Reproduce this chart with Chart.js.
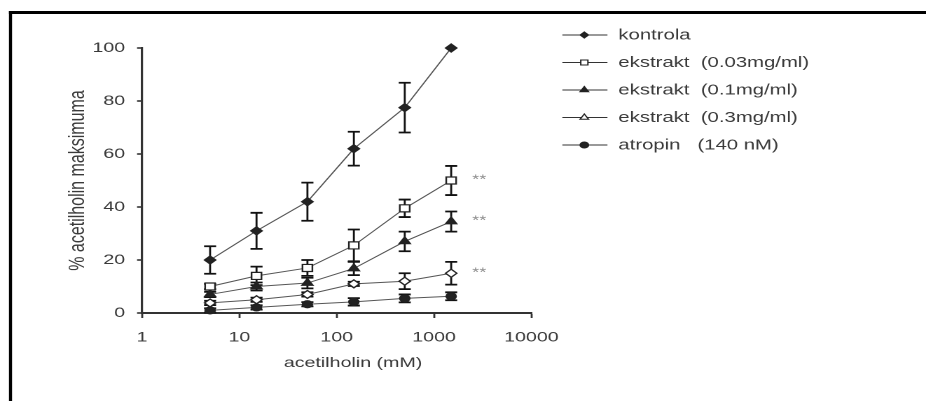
<!DOCTYPE html>
<html>
<head>
<meta charset="utf-8">
<script src="https://cdn.jsdelivr.net/npm/chart.js@4.4.1/dist/chart.umd.min.js"></script>
<style>
  html, body { margin: 0; padding: 0; background: #fff; }
</style>
</head>
<body>
<!-- drawn narrow, shown wide: the figure is stretched sideways -->
<canvas id="chart" width="661" height="401" style="width:926px;height:401px;display:block"></canvas>
<script>
// -----------------------------
// Data
// -----------------------------
const doses = [5, 15, 50, 150, 500, 1500];          // acetilholin (mM)
const xTicks = [1, 10, 100, 1000, 10000];
const yTicks = [0, 20, 40, 60, 80, 100];

const kontrola      = [20, 31, 42, 62, 77.5, 100];
const kontrolaErr   = [5.2, 6.8, 7.2, 6.4, 9.4, 0];
const ekstrakt003   = [10, 14, 17, 25.5, 39.5, 50];
const ekstrakt003Err = [1, 3.5, 3, 6, 3.3, 5.5];
const ekstrakt01    = [7, 10, 11.3, 16.8, 27, 34.5];
const ekstrakt01Err = [1, 1.5, 2, 2.5, 3.7, 3.8];
const ekstrakt03    = [3.8, 5, 7, 11, 12, 15];
const ekstrakt03Err = [0.8, 0.8, 0.8, 0.8, 3, 4.3];
const atropin       = [1, 2.1, 3.3, 4.2, 5.5, 6.3];
const atropinErr    = [0.8, 0.8, 0.8, 1.4, 1.5, 1.5];

const labels = ['kontrola', 'ekstrakt  (0.03mg/ml)', 'ekstrakt  (0.1mg/ml)',
                'ekstrakt  (0.3mg/ml)', 'atropin   (140 nM)'];
const xTitle = 'acetilholin (mM)';
const yTitle = '% acetilholin maksimuma';
const starText = '**';

const INK = '#222';
const TEXT = '#3a3a3a';
const FONT = '"Liberation Sans", Arial, sans-serif';

Chart.defaults.font.family = FONT;
Chart.defaults.color = TEXT;

function series(label, values, errors, style) {
    return Object.assign({
        label: label,
        data: doses.map((d, i) => ({ x: d, y: values[i] })),
        errors: errors,
        borderColor: '#555',
        borderWidth: 1,
        pointBorderColor: INK,
        pointBorderWidth: 1.2,
        pointHoverRadius: 0,
        tension: 0,
        clip: false
    }, style);
}

const datasets = [
    series(labels[0], kontrola, kontrolaErr,
        { pointStyle: 'rectRot', pointRadius: 4, pointBackgroundColor: INK, legendStyle: 'rectRot', legendRadius: 3 }),
    series(labels[1], ekstrakt003, ekstrakt003Err,
        { pointStyle: 'rect', pointRadius: 5, pointBackgroundColor: '#fff', legendStyle: 'rect', legendRadius: 3.6, legendFill: '#fff', stars: true }),
    series(labels[2], ekstrakt01, ekstrakt01Err,
        { pointStyle: 'triangle', pointRadius: 4.5, pointBackgroundColor: INK, legendStyle: 'triangle', legendRadius: 3.5, stars: true }),
    series(labels[3], ekstrakt03, ekstrakt03Err,
        { pointStyle: 'rectRot', pointRadius: 4, pointBackgroundColor: '#fff', legendStyle: 'triangle', legendRadius: 3.5, legendFill: '#fff', stars: true }),
    series(labels[4], atropin, atropinErr,
        { pointStyle: 'circle', pointRadius: 3.5, pointBackgroundColor: INK, legendStyle: 'circle', legendRadius: 3 })
];

// -----------------------------
// Error bars (under the markers)
// -----------------------------
const errorBars = {
    id: 'errorBars',
    beforeDatasetsDraw(chart) {
        const { ctx, scales: { x, y } } = chart;
        ctx.save();
        ctx.strokeStyle = '#111';
        chart.data.datasets.forEach(ds => {
            ds.errors.forEach((e, i) => {
                if (!e) return;
                const px = x.getPixelForValue(ds.data[i].x);
                const hi = y.getPixelForValue(ds.data[i].y + e);
                const lo = y.getPixelForValue(ds.data[i].y - e);
                ctx.lineWidth = 1.4;
                ctx.beginPath();
                ctx.moveTo(px, hi);
                ctx.lineTo(px, lo);
                ctx.stroke();
                ctx.lineWidth = 1.8;
                ctx.beginPath();
                ctx.moveTo(px - 4.3, hi); ctx.lineTo(px + 4.3, hi);
                ctx.moveTo(px - 4.3, lo); ctx.lineTo(px + 4.3, lo);
                ctx.stroke();
            });
        });
        ctx.restore();
    }
};

// -----------------------------
// Legend, x title, significance marks, frame
// -----------------------------
const extras = {
    id: 'extras',
    afterDraw(chart) {
        const { ctx, scales: { x, y } } = chart;
        ctx.save();

        // legend: line with marker, then label
        chart.data.datasets.forEach((ds, i) => {
            const ly = 35 + i * 27.5;
            ctx.strokeStyle = '#333';
            ctx.lineWidth = 1;
            ctx.beginPath();
            ctx.moveTo(401.4, ly);
            ctx.lineTo(433.6, ly);
            ctx.stroke();
            ctx.fillStyle = ds.legendFill || INK;
            ctx.strokeStyle = INK;
            ctx.lineWidth = 1;
            Chart.helpers.drawPoint(ctx, { pointStyle: ds.legendStyle, radius: ds.legendRadius, rotation: 0, borderWidth: 1 }, 417.1, ly);
            ctx.fillStyle = TEXT;
            ctx.font = '14.5px ' + FONT;
            ctx.textAlign = 'left';
            ctx.textBaseline = 'middle';
            ctx.fillText(ds.label, 441.4, ly + 0.5);
        });

        // ** next to the last point of the extract series
        ctx.fillStyle = '#8a8a8a';
        ctx.font = '13px ' + FONT;
        ctx.textAlign = 'left';
        ctx.textBaseline = 'middle';
        chart.data.datasets.forEach(ds => {
            if (!ds.stars) return;
            const last = ds.data[ds.data.length - 1];
            ctx.fillText(starText, x.getPixelForValue(last.x) + 15, y.getPixelForValue(last.y) - 0.5);
        });

        // x axis title
        ctx.fillStyle = TEXT;
        ctx.font = '14px ' + FONT;
        ctx.textAlign = 'center';
        ctx.fillText(xTitle, 252, 363);

        // frame on top and left
        ctx.fillStyle = '#000';
        ctx.fillRect(6.4, 11, 661, 3);
        ctx.fillRect(6.4, 11, 2.2, 401);
        ctx.restore();
    }
};

new Chart(document.getElementById('chart'), {
    type: 'line',
    data: { datasets: datasets },
    plugins: [errorBars, extras],
    options: {
        responsive: false,
        devicePixelRatio: 2,
        animation: false,
        events: [],
        layout: { padding: { left: 0, top: 48, right: 281.7, bottom: 0 } },
        plugins: { legend: { display: false }, tooltip: { enabled: false } },
        scales: {
            x: {
                type: 'logarithmic',
                min: 1,
                max: 10000,
                afterBuildTicks: s => { s.ticks = xTicks.map(v => ({ value: v })); },
                afterFit: s => { s.height = 88; },
                ticks: { callback: v => String(v), autoSkip: false, maxRotation: 0, padding: 11, font: { size: 14 }, color: TEXT },
                grid: { drawOnChartArea: false, drawTicks: true, tickLength: 5, tickColor: '#333', tickWidth: 1.4 },
                border: { display: true, color: '#333', width: 2 }
            },
            y: {
                min: 0,
                max: 100,
                afterBuildTicks: s => { s.ticks = yTicks.map(v => ({ value: v })); },
                afterFit: s => { s.width = 101.4; },
                ticks: { padding: 8.5, font: { size: 14 }, color: TEXT },
                grid: { drawOnChartArea: false, drawTicks: true, tickLength: 3.6, tickColor: '#333', tickWidth: 1.6 },
                border: { display: true, color: '#333', width: 1.6 },
                title: { display: true, text: yTitle, font: { size: 16 }, color: TEXT, padding: { top: 46, bottom: 0 } }
            }
        }
    }
});
</script>
</body>
</html>
